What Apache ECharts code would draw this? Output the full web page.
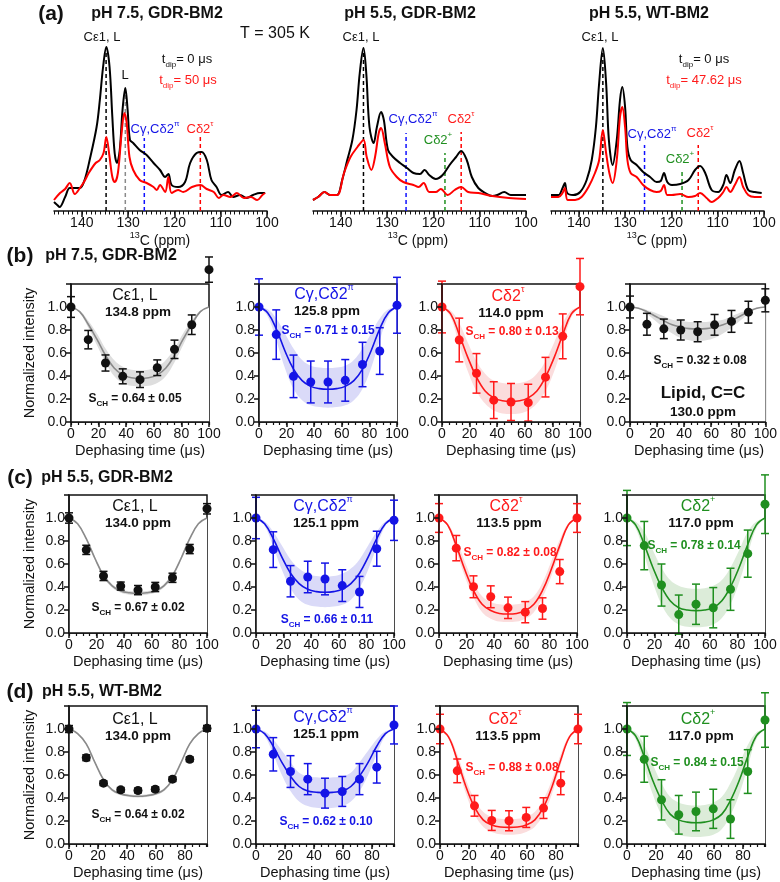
<!DOCTYPE html>
<html><head><meta charset="utf-8">
<script src="https://cdn.jsdelivr.net/npm/echarts@6/dist/echarts.min.js"></script>
<style>html,body{margin:0;padding:0;background:#fff}#c{width:780px;height:882px}</style>
</head><body><div id="c"></div>
<script>
// ---------------- (a) spectra: [ppm, intensity] ----------------
const spec1Black = [[146,9],[145.3,6],[144.8,4],[143.6,14],[142.6,23],[141.5,23],[140.4,23],[139.4,31],[138.3,51],[136.8,84],[136.1,111],[135.4,144],[134.7,164],[134,144],[133.4,94],[132.9,58],[132.4,48],[131.8,61],[131.2,101],[130.6,123],[130.1,101],[129.6,71],[128.9,68],[127.5,61],[126,56],[124.5,48],[123.1,41],[122,34],[121.3,37],[120.6,26],[119.2,24],[117.7,29],[116.6,48],[115.2,58],[114.1,59],[113,51],[112,31],[110.9,24],[109.8,16],[108.4,19],[107.3,14],[105.8,16],[104.4,13],[103,16],[101.5,18],[100.4,18]];
const spec1Red = [[146,11],[144.7,18],[143.6,22],[142.6,28],[141.5,17],[140.4,23],[139.4,30],[138.5,38],[137,48],[136.1,51],[135.3,58],[134.7,74],[134,54],[133.4,34],[132.9,29],[132.2,38],[131.4,78],[130.8,98],[130.3,88],[129.7,54],[128.9,41],[127.5,31],[126,28],[124.5,24],[123.8,21],[123.1,26],[122,19],[121.3,34],[120.6,18],[119.2,21],[118.1,19],[116.2,24],[114.4,26],[113,22],[111.5,19],[110.4,13],[109.4,16],[107.9,14],[106.5,18],[105,13],[103.5,14],[102.1,11],[101,16],[100.4,18]];
const spec2Black = [[146,11],[144.9,14],[143.5,19],[142.3,16],[140.8,16],[139.7,31],[138.6,51],[137.5,71],[136.6,101],[135.9,138],[135.1,163],[134.5,138],[133.8,84],[132.9,68],[132.2,84],[131.3,99],[130.7,91],[129.8,61],[128.7,54],[127.2,48],[125.7,43],[124.3,38],[122.9,37],[121.9,41],[120.9,36],[119.5,32],[118,36],[116.5,46],[115.1,54],[114,60],[112.8,51],[111.7,34],[110.3,23],[108.8,18],[107.3,15],[106.2,16],[104.7,19],[103.3,16],[100,16]];
const spec2Red = [[146,11],[144.9,14],[143.5,19],[142.3,16],[140.8,16],[139.3,38],[137.9,54],[136.4,64],[135.1,71],[134.4,54],[133.4,41],[132.6,54],[131.8,78],[131.3,83],[130.5,68],[129.4,44],[127.9,34],[126.5,29],[124.3,26],[123.2,24],[122.1,28],[120.9,19],[119.5,19],[118.4,22],[116.9,16],[115.4,21],[114,24],[112.5,19],[110.3,18],[107.3,15],[103.7,13],[100,12]];
const spec3Black = [[146,16],[144.4,16],[143.5,23],[143,28],[142.5,18],[141.2,16],[139.7,19],[138.3,31],[137.2,51],[136.3,84],[135.6,128],[134.8,163],[134.1,128],[133.5,71],[132.7,46],[131.8,71],[131.1,111],[130.6,124],[130,104],[129.5,64],[128.8,51],[127.5,46],[126.1,39],[124.6,34],[123.2,29],[122.3,30],[121.6,38],[120.9,29],[119.9,26],[118.1,27],[116.3,31],[114.9,41],[113.8,45],[112.7,38],[111.3,21],[109.9,19],[108.8,26],[108.1,36],[107.3,28],[106.3,41],[105.3,50],[104.5,38],[103.4,21],[102,19],[100.5,18]];
const spec3Red = [[146,14],[144.4,14],[143.5,18],[143,23],[142.4,11],[140.8,11],[139.4,14],[137.9,24],[136.5,38],[135.6,51],[134.8,81],[134.1,58],[133.4,38],[132.7,28],[131.8,51],[131.1,94],[130.6,104],[130,84],[129.5,51],[128.8,38],[127.5,34],[126.1,26],[124.6,21],[123.2,19],[122.3,20],[121.6,26],[120.9,16],[119.9,16],[118.1,17],[116.3,14],[114.9,15],[113.8,18],[112.4,13],[111.3,9],[109.9,13],[108.8,19],[108.1,24],[107.3,19],[106.3,26],[105.3,34],[104.5,24],[103.4,16],[102,14],[100.5,14]];
// dashed assignment markers: ppm and height
const mark1Ppm = [134.75, 130.6, 126.5, 114.4], mark1Top = [160, 123, 73, 74];
const mark2Ppm = [135.1, 125.9, 117.5, 114.0], mark2Top = [160, 78, 58, 79];
const mark3Ppm = [134.8, 125.8, 117.7, 114.2], mark3Top = [160, 66, 41, 66];
const specTicks = [100, 110, 120, 130, 140];

// ---------------- (b)-(d) dephasing curves ----------------
const tBC = [0, 12.5, 25, 37.5, 50, 62.5, 75, 87.5, 100];
const tD = [0, 11.905, 23.81, 35.715, 47.62, 59.525, 71.43, 83.335, 95.24];
const fitTBC = [0,6.25,12.5,18.75,25,31.25,37.5,43.75,50,56.25,62.5,68.75,75,81.25,87.5,93.75,100];
const fitTD = [0,5.95,11.9,17.86,23.81,29.76,35.71,41.67,47.62,53.57,59.52,65.48,71.43,77.38,83.33,89.29,95.24];
const yTicks = [0.0, 0.2, 0.4, 0.6, 0.8, 1.0];

const b1V=[1.0,0.716,0.513,0.397,0.368,0.472,0.632,0.846,1.325], b1E=[0.09,0.08,0.07,0.065,0.068,0.068,0.08,0.085,0.11];
const b2V=[1.0,0.76,0.397,0.348,0.348,0.362,0.50,0.617,1.015], b2E=[0.245,0.215,0.185,0.182,0.182,0.181,0.193,0.203,0.243];
const b3V=[1.0,0.713,0.423,0.19,0.174,0.168,0.39,0.745,1.177], b3E=[0.225,0.19,0.172,0.16,0.161,0.16,0.172,0.195,0.245];
const b4V=[1.0,0.85,0.81,0.80,0.785,0.845,0.875,0.955,1.058], b4E=[0.095,0.095,0.085,0.087,0.087,0.09,0.095,0.095,0.10];
const c1V=[1.0,0.723,0.496,0.408,0.373,0.40,0.48,0.73,1.08], c1E=[0.045,0.04,0.04,0.035,0.04,0.04,0.04,0.04,0.045];
const c2V=[1.0,0.725,0.45,0.487,0.47,0.412,0.357,0.733,0.98], c2E=[0.18,0.155,0.136,0.137,0.138,0.138,0.135,0.152,0.175];
const c3V=[1.0,0.738,0.402,0.315,0.219,0.181,0.213,0.534,1.0], c3E=[0.125,0.11,0.095,0.095,0.093,0.092,0.093,0.105,0.125];
const c4V=[1.0,0.76,0.417,0.16,0.25,0.22,0.38,0.69,1.12], c4E=[0.24,0.21,0.183,0.17,0.175,0.175,0.183,0.205,0.255];
const d1V=[1.0,0.75,0.529,0.471,0.465,0.477,0.564,0.737,1.006], d1E=[0.03,0.025,0.02,0.02,0.02,0.02,0.02,0.02,0.025];
const d2V=[1.0,0.78,0.63,0.564,0.442,0.457,0.564,0.668,1.035], d2E=[0.163,0.145,0.138,0.135,0.13,0.13,0.135,0.138,0.165];
const d3V=[1.0,0.636,0.332,0.205,0.202,0.231,0.312,0.529,1.0], d3E=[0.128,0.103,0.09,0.087,0.087,0.087,0.09,0.1,0.128];
const d4V=[1.0,0.737,0.384,0.254,0.283,0.306,0.217,0.63,1.078], d4E=[0.23,0.2,0.175,0.168,0.168,0.17,0.168,0.19,0.237];

const b1Fit=[1,0.96,0.85,0.72,0.58,0.47,0.41,0.385,0.38,0.385,0.41,0.47,0.58,0.72,0.85,0.96,1];
const b1Lo =[1,0.95,0.82,0.67,0.52,0.40,0.34,0.315,0.31,0.315,0.34,0.40,0.52,0.67,0.82,0.95,1];
const b1Hi =[1,0.97,0.88,0.77,0.64,0.54,0.48,0.455,0.45,0.455,0.48,0.54,0.64,0.77,0.88,0.97,1];
const b2Fit=[1,0.95,0.81,0.62,0.46,0.36,0.31,0.29,0.285,0.29,0.31,0.36,0.46,0.62,0.81,0.95,1];
const b2Lo =[1,0.92,0.71,0.47,0.29,0.19,0.145,0.13,0.125,0.13,0.145,0.19,0.29,0.47,0.71,0.92,1];
const b2Hi =[1,0.98,0.90,0.77,0.64,0.54,0.49,0.475,0.47,0.475,0.49,0.54,0.64,0.77,0.90,0.98,1];
const b3Fit=[1,0.94,0.76,0.56,0.39,0.27,0.21,0.185,0.18,0.185,0.21,0.27,0.39,0.56,0.76,0.94,1];
const b3Lo =[1,0.91,0.67,0.44,0.27,0.16,0.10,0.075,0.07,0.075,0.10,0.16,0.27,0.44,0.67,0.91,1];
const b3Hi =[1,0.97,0.86,0.69,0.53,0.42,0.36,0.34,0.335,0.34,0.36,0.42,0.53,0.69,0.86,0.97,1];
const b4Fit=[1,0.99,0.96,0.92,0.88,0.845,0.825,0.812,0.81,0.812,0.825,0.845,0.88,0.92,0.96,0.99,1];
const b4Lo =[1,0.985,0.94,0.88,0.82,0.77,0.73,0.71,0.70,0.71,0.73,0.77,0.82,0.88,0.94,0.985,1];
const b4Hi =[1,0.995,0.975,0.95,0.92,0.89,0.88,0.87,0.87,0.87,0.88,0.89,0.92,0.95,0.975,0.995,1];
const c1Fit=[1,0.95,0.82,0.65,0.50,0.41,0.365,0.35,0.345,0.35,0.365,0.41,0.50,0.65,0.82,0.95,1];
const c1Lo =[1,0.947,0.81,0.635,0.485,0.395,0.35,0.333,0.328,0.333,0.35,0.395,0.485,0.635,0.81,0.947,1];
const c1Hi =[1,0.953,0.83,0.665,0.515,0.425,0.38,0.365,0.362,0.365,0.38,0.425,0.515,0.665,0.83,0.953,1];
const c2Fit=[1,0.95,0.82,0.66,0.52,0.43,0.38,0.36,0.355,0.36,0.38,0.43,0.52,0.66,0.82,0.95,1];
const c2Lo =[1,0.93,0.75,0.55,0.39,0.29,0.245,0.23,0.225,0.23,0.245,0.29,0.39,0.55,0.75,0.93,1];
const c2Hi =[1,0.97,0.88,0.76,0.64,0.56,0.515,0.495,0.49,0.495,0.515,0.56,0.64,0.76,0.88,0.97,1];
const c3Fit=[1,0.94,0.76,0.55,0.37,0.25,0.195,0.17,0.165,0.17,0.195,0.25,0.37,0.55,0.76,0.94,1];
const c3Lo =[1,0.93,0.71,0.49,0.31,0.18,0.125,0.10,0.095,0.10,0.125,0.18,0.31,0.49,0.71,0.93,1];
const c3Hi =[1,0.955,0.81,0.62,0.44,0.32,0.27,0.25,0.245,0.25,0.27,0.32,0.44,0.62,0.81,0.955,1];
const c4Fit=[1,0.94,0.77,0.57,0.40,0.28,0.22,0.20,0.195,0.20,0.22,0.28,0.40,0.57,0.77,0.94,1];
const c4Lo =[1,0.91,0.68,0.44,0.25,0.13,0.075,0.055,0.05,0.055,0.075,0.13,0.25,0.44,0.68,0.91,1];
const c4Hi =[1,0.97,0.88,0.72,0.57,0.46,0.41,0.39,0.385,0.39,0.41,0.46,0.57,0.72,0.88,0.97,1];
const d1Fit=[1,0.96,0.87,0.71,0.56,0.47,0.435,0.42,0.415,0.42,0.435,0.47,0.56,0.71,0.87,0.96,1];
const d1Lo =[1,0.955,0.86,0.70,0.548,0.458,0.423,0.408,0.403,0.408,0.423,0.458,0.548,0.70,0.86,0.955,1];
const d1Hi =[1,0.965,0.88,0.72,0.572,0.482,0.447,0.432,0.427,0.432,0.447,0.482,0.572,0.72,0.88,0.965,1];
const d2Fit=[1,0.96,0.85,0.71,0.59,0.50,0.46,0.45,0.445,0.45,0.46,0.50,0.59,0.71,0.85,0.96,1];
const d2Lo =[1,0.94,0.78,0.60,0.46,0.37,0.33,0.315,0.31,0.315,0.33,0.37,0.46,0.60,0.78,0.94,1];
const d2Hi =[1,0.98,0.91,0.81,0.71,0.62,0.59,0.58,0.575,0.58,0.59,0.62,0.71,0.81,0.91,0.98,1];
const d3Fit=[1,0.93,0.73,0.50,0.32,0.21,0.165,0.148,0.145,0.148,0.165,0.21,0.32,0.50,0.73,0.93,1];
const d3Lo =[1,0.92,0.69,0.44,0.26,0.15,0.105,0.085,0.08,0.085,0.105,0.15,0.26,0.44,0.69,0.92,1];
const d3Hi =[1,0.945,0.78,0.56,0.39,0.28,0.235,0.22,0.215,0.22,0.235,0.28,0.39,0.56,0.78,0.945,1];
const d4Fit=[1,0.94,0.76,0.55,0.38,0.26,0.21,0.19,0.185,0.19,0.21,0.26,0.38,0.55,0.76,0.94,1];
const d4Lo =[1,0.91,0.67,0.43,0.25,0.13,0.08,0.065,0.06,0.065,0.08,0.13,0.25,0.43,0.67,0.91,1];
const d4Hi =[1,0.97,0.86,0.69,0.53,0.41,0.36,0.34,0.335,0.34,0.36,0.41,0.53,0.69,0.86,0.97,1];

// ---------------- drawing ----------------
const FONT = '"Liberation Sans", Arial, Helvetica, sans-serif';
const BLACK='#111111', BLUE='#1414e6', RED='#ff1a1a', GREEN='#1f8f1f', GRAY='#8a8a8a';
const grid=[], xAxis=[], yAxis=[], series=[], graphic=[];

function tok(size, color, weight, va, pad) {
  const o = {fontSize:size, fill:color, color:color, fontWeight:weight||'normal', fontFamily:FONT};
  if (va) o.verticalAlign = va;
  if (pad) o.padding = pad;
  return o;
}
function T(x, y, text, size, color, weight, rich, rot) {
  const style = {text, fill:color, fontSize:size, fontWeight:weight||'normal', fontFamily:FONT,
    align:'center', verticalAlign:'middle', textAlign:'center', textVerticalAlign:'middle'};
  if (rich) style.rich = rich;
  const el = {type:'text', x, y, z:100, silent:true, style};
  if (rot) el.rotation = rot;
  graphic.push(el);
}
function richSub(size, color, weight, subSize) {
  return {n: tok(size, color, weight, 'top', [0,0,3,0]), s: tok(subSize, color, weight, 'bottom')};
}
function richSup(size, color, weight, supSize) {
  return {n: tok(size, color, weight, 'bottom', [3,0,0,0]), s: tok(supSize, color, weight, 'top')};
}

function addSpec(left, black, red, mPpm, mTop, mCol) {
  const gi = grid.length;
  grid.push({left, top:45, width:213, height:166});
  xAxis.push({gridIndex:gi, type:'value', position:'bottom', min:100, max:146, interval:10, inverse:true,
    axisLine:{onZero:false, lineStyle:{color:BLACK, width:1.5}},
    axisTick:{length:6, lineStyle:{color:BLACK, width:1.5}},
    axisLabel:{fontSize:14, color:BLACK, fontFamily:FONT, margin:5, showMaxLabel:false,
      formatter: v => specTicks.indexOf(v) >= 0 ? String(v) : ''},
    splitLine:{show:false}});
  const xi = xAxis.length - 1;
  xAxis.push({gridIndex:gi, type:'value', position:'bottom', min:100, max:146, interval:1, inverse:true,
    axisLine:{show:false, onZero:false}, axisTick:{length:3.5, lineStyle:{color:BLACK, width:1}},
    axisLabel:{show:false}, splitLine:{show:false}});
  yAxis.push({gridIndex:gi, type:'value', min:0, max:166, show:false});
  const yi = yAxis.length - 1;
  mPpm.forEach((p, i) => series.push({type:'line', xAxisIndex:xi, yAxisIndex:yi, data:[[p,0],[p,mTop[i]]],
    symbol:'none', silent:true, lineStyle:{color:mCol[i], width:1.5, type:[4,3]}, z:1}));
  series.push({type:'line', xAxisIndex:xi, yAxisIndex:yi, data:black, smooth:0.35, symbol:'none', silent:true,
    lineStyle:{color:'#000', width:2}, z:2});
  series.push({type:'line', xAxisIndex:xi, yAxisIndex:yi, data:red, smooth:0.35, symbol:'none', silent:true,
    lineStyle:{color:'#ff0000', width:2}, z:3});
}

function addDeph(left, top, xmax, xs, v, e, fx, fit, lo, hi, col, band, fitCol, yName) {
  const gi = grid.length;
  grid.push({left, top, width:138, height:138, show:true, borderColor:BLACK, borderWidth:1.5, backgroundColor:'transparent'});
  xAxis.push({gridIndex:gi, type:'value', position:'bottom', min:0, max:xmax, interval:20,
    axisLine:{onZero:false, lineStyle:{color:BLACK, width:1.5}},
    axisTick:{length:5, lineStyle:{color:BLACK, width:1.5}},
    axisLabel:{fontSize:14, color:BLACK, fontFamily:FONT, margin:5, showMinLabel:true, showMaxLabel: xmax === 100,
      formatter: val => (Math.abs(val / 20 - Math.round(val / 20)) < 1e-6) ? String(val) : ''},
    splitLine:{show:false}, z:5});
  const xi = xAxis.length - 1;
  xAxis.push({gridIndex:gi, type:'value', position:'bottom', min:0, max:xmax, interval:5,
    axisLine:{show:false, onZero:false}, axisTick:{length:3, lineStyle:{color:BLACK, width:1.2}},
    axisLabel:{show:false}, splitLine:{show:false}});
  yAxis.push({gridIndex:gi, type:'value', min:0, max:1.2, interval:0.2,
    axisLine:{onZero:false, lineStyle:{color:BLACK, width:1.5}},
    axisTick:{length:5, lineStyle:{color:BLACK, width:1.5}},
    axisLabel:{fontSize:14, color:BLACK, fontFamily:FONT, margin:4, showMinLabel:true,
      formatter: val => yTicks.some(t => Math.abs(t - val) < 1e-6) ? val.toFixed(1) : ''},
    splitLine:{show:false}, z:5});
  const yi = yAxis.length - 1;
  // confidence band: upper curve filled in band colour, lower curve filled white on top
  series.push({type:'line', xAxisIndex:xi, yAxisIndex:yi, data:fx.map((x,i)=>[x, hi[i]]),
    smooth:0.4, symbol:'none', silent:true, lineStyle:{width:0, opacity:0},
    areaStyle:{color:band, opacity:1, origin:'start'}, z:1});
  series.push({type:'line', xAxisIndex:xi, yAxisIndex:yi, data:fx.map((x,i)=>[x, lo[i]]),
    smooth:0.4, symbol:'none', silent:true, lineStyle:{width:0, opacity:0},
    areaStyle:{color:'#ffffff', opacity:1, origin:'start'}, z:1});
  series.push({type:'line', xAxisIndex:xi, yAxisIndex:yi, data:fx.map((x,i)=>[x, fit[i]]),
    smooth:0.4, symbol:'none', silent:true, lineStyle:{color:fitCol, width:1.6}, z:2});
  series.push({type:'custom', xAxisIndex:xi, yAxisIndex:yi, clip:false, silent:true, z:3,
    data: xs.map((x,i)=>[x, v[i], e[i]]),
    encode:{x:0, y:1},
    renderItem: (p, api) => {
      const x = api.value(0), val = api.value(1), er = api.value(2);
      const a = api.coord([x, val + er]), b = api.coord([x, val - er]);
      const w = 4, s = {stroke:col, lineWidth:1.5};
      return {type:'group', children:[
        {type:'line', shape:{x1:a[0], y1:a[1], x2:b[0], y2:b[1]}, style:s},
        {type:'line', shape:{x1:a[0]-w, y1:a[1], x2:a[0]+w, y2:a[1]}, style:s},
        {type:'line', shape:{x1:b[0]-w, y1:b[1], x2:b[0]+w, y2:b[1]}, style:s}]};
    }});
  series.push({type:'scatter', xAxisIndex:xi, yAxisIndex:yi, clip:false, silent:true, z:4,
    data: xs.map((x,i)=>[x, v[i]]), symbol:'circle', symbolSize:9, itemStyle:{color:col, opacity:1}});
  // axis titles
  T(left + 69, top + 167, 'Dephasing time (μs)', 14.5, BLACK, 'normal');
  if (yName) T(30, top + 69, 'Normalized intensity', 14.5, BLACK, 'normal', null, Math.PI / 2);
}

// spectra
addSpec(54, spec1Black, spec1Red, mark1Ppm, mark1Top, ['#000', '#8a8a8a', '#1010ff', '#ff0000']);
addSpec(313, spec2Black, spec2Red, mark2Ppm, mark2Top, ['#000', '#1010ff', '#1f8f1f', '#ff0000']);
addSpec(551, spec3Black, spec3Red, mark3Ppm, mark3Top, ['#000', '#1010ff', '#1f8f1f', '#ff0000']);

// dephasing rows
const BAND_G='#dedede', BAND_B='#dadaf8', BAND_R='#fbdddd', BAND_GR='#dcecd9';
addDeph(71, 284, 100, tBC, b1V, b1E, fitTBC, b1Fit, b1Lo, b1Hi, BLACK, BAND_G, GRAY, true);
addDeph(259, 284, 100, tBC, b2V, b2E, fitTBC, b2Fit, b2Lo, b2Hi, BLUE, BAND_B, BLUE, false);
addDeph(442, 284, 100, tBC, b3V, b3E, fitTBC, b3Fit, b3Lo, b3Hi, RED, BAND_R, RED, false);
addDeph(630, 284, 100, tBC, b4V, b4E, fitTBC, b4Fit, b4Lo, b4Hi, BLACK, BAND_G, GRAY, false);
addDeph(69, 495, 100, tBC, c1V, c1E, fitTBC, c1Fit, c1Lo, c1Hi, BLACK, BAND_G, GRAY, true);
addDeph(256, 495, 100, tBC, c2V, c2E, fitTBC, c2Fit, c2Lo, c2Hi, BLUE, BAND_B, BLUE, false);
addDeph(439, 495, 100, tBC, c3V, c3E, fitTBC, c3Fit, c3Lo, c3Hi, RED, BAND_R, RED, false);
addDeph(627, 495, 100, tBC, c4V, c4E, fitTBC, c4Fit, c4Lo, c4Hi, GREEN, BAND_GR, GREEN, false);
addDeph(69, 706, 95.24, tD, d1V, d1E, fitTD, d1Fit, d1Lo, d1Hi, BLACK, BAND_G, GRAY, true);
addDeph(256, 706, 95.24, tD, d2V, d2E, fitTD, d2Fit, d2Lo, d2Hi, BLUE, BAND_B, BLUE, false);
addDeph(440, 706, 95.24, tD, d3V, d3E, fitTD, d3Fit, d3Lo, d3Hi, RED, BAND_R, RED, false);
addDeph(627, 706, 95.24, tD, d4V, d4E, fitTD, d4Fit, d4Lo, d4Hi, GREEN, BAND_GR, GREEN, false);

// ---------------- texts ----------------
T(51, 14, '(a)', 21, BLACK, 'bold');
T(157, 14, 'pH 7.5, GDR-BM2', 16, BLACK, 'bold');
T(410, 14, 'pH 5.5, GDR-BM2', 16, BLACK, 'bold');
T(649, 14, 'pH 5.5, WT-BM2', 16, BLACK, 'bold');
T(275, 34, 'T = 305 K', 16, BLACK, 'normal');
const sCpi = (c) => richSup(13, c, 'normal', 8);
T(102, 37, 'Cε1, L', 13, BLACK);
T(125, 75, 'L', 13, BLACK);
T(155, 128, '{n|Cγ,Cδ2}{s|π}', 13, BLUE, 'normal', sCpi(BLUE));
T(200, 128, '{n|Cδ2}{s|τ}', 13, RED, 'normal', sCpi(RED));
T(187, 61, '{n|t}{s|dip}{n|= 0 μs}', 13, BLACK, 'normal', richSub(13, BLACK, 'normal', 8));
T(188, 82, '{n|t}{s|dip}{n|= 50 μs}', 13, RED, 'normal', richSub(13, RED, 'normal', 8));
T(361, 37, 'Cε1, L', 13, BLACK);
T(413, 118, '{n|Cγ,Cδ2}{s|π}', 13, BLUE, 'normal', sCpi(BLUE));
T(461, 118, '{n|Cδ2}{s|τ}', 13, RED, 'normal', sCpi(RED));
T(438, 139, '{n|Cδ2}{s|+}', 13, GREEN, 'normal', sCpi(GREEN));
T(600, 37, 'Cε1, L', 13, BLACK);
T(704, 61, '{n|t}{s|dip}{n|= 0 μs}', 13, BLACK, 'normal', richSub(13, BLACK, 'normal', 8));
T(704, 82, '{n|t}{s|dip}{n|= 47.62 μs}', 13, RED, 'normal', richSub(13, RED, 'normal', 8));
T(652, 133, '{n|Cγ,Cδ2}{s|π}', 13, BLUE, 'normal', sCpi(BLUE));
T(700, 132, '{n|Cδ2}{s|τ}', 13, RED, 'normal', sCpi(RED));
T(680, 158, '{n|Cδ2}{s|+}', 13, GREEN, 'normal', sCpi(GREEN));
const ppmLab = richSup(14, BLACK, 'normal', 9);
T(160, 240, '{s|13}{n|C (ppm)}', 14, BLACK, 'normal', ppmLab);
T(418, 240, '{s|13}{n|C (ppm)}', 14, BLACK, 'normal', ppmLab);
T(657, 240, '{s|13}{n|C (ppm)}', 14, BLACK, 'normal', ppmLab);

T(20, 256, '(b)', 21, BLACK, 'bold');
T(111, 256, 'pH 7.5, GDR-BM2', 16, BLACK, 'bold');
T(20, 478, '(c)', 21, BLACK, 'bold');
T(107, 478, 'pH 5.5, GDR-BM2', 16, BLACK, 'bold');
T(20, 692, '(d)', 21, BLACK, 'bold');
T(102, 692, 'pH 5.5, WT-BM2', 16, BLACK, 'bold');

const big = (c) => richSup(16, c, 'normal', 9);
const sch = (c) => richSub(12, c, 'bold', 8);
function panelText(cx, y1, head, headCol, ppm, sx, sy, sTxt, sCol) {
  T(cx, y1, head, 16, headCol, 'normal', big(headCol));
  T(cx + 3, y1 + 18, ppm, 13.5, BLACK, 'bold');
  T(sx, sy, '{n|S}{s|CH}{n| = ' + sTxt + '}', 12, sCol, 'bold', sch(sCol));
}
panelText(135, 294, '{n|Cε1, L}', BLACK, '134.8 ppm', 135, 400, '0.64 ± 0.05', BLACK);
panelText(324, 293, '{n|Cγ,Cδ2}{s|π}', BLUE, '125.8 ppm', 328, 332, '0.71 ± 0.15', BLUE);
panelText(508, 295, '{n|Cδ2}{s|τ}', RED, '114.0 ppm', 512, 333, '0.80 ± 0.13', RED);
T(700, 362, '{n|S}{s|CH}{n| = 0.32 ± 0.08}', 12, BLACK, 'bold', sch(BLACK));
T(703, 393, 'Lipid, C=C', 17, BLACK, 'bold');
T(703, 412, '130.0 ppm', 13.5, BLACK, 'bold');

panelText(135, 505, '{n|Cε1, L}', BLACK, '134.0 ppm', 138, 609, '0.67 ± 0.02', BLACK);
panelText(323, 505, '{n|Cγ,Cδ2}{s|π}', BLUE, '125.1 ppm', 327, 621, '0.66 ± 0.11', BLUE);
panelText(506, 505, '{n|Cδ2}{s|τ}', RED, '113.5 ppm', 510, 554, '0.82 ± 0.08', RED);
panelText(698, 505, '{n|Cδ2}{s|+}', GREEN, '117.0 ppm', 694, 547, '0.78 ± 0.14', GREEN);

panelText(135, 718, '{n|Cε1, L}', BLACK, '134.0 ppm', 138, 816, '0.64 ± 0.02', BLACK);
panelText(323, 716, '{n|Cγ,Cδ2}{s|π}', BLUE, '125.1 ppm', 326, 823, '0.62 ± 0.10', BLUE);
panelText(505, 718, '{n|Cδ2}{s|τ}', RED, '113.5 ppm', 512, 769, '0.88 ± 0.08', RED);
panelText(698, 718, '{n|Cδ2}{s|+}', GREEN, '117.0 ppm', 697, 764, '0.84 ± 0.15', GREEN);

const chart = echarts.init(document.getElementById('c'), null, {renderer:'canvas'});
chart.setOption({animation:false, backgroundColor:'#fff', grid, xAxis, yAxis, series, graphic});
</script></body></html>
